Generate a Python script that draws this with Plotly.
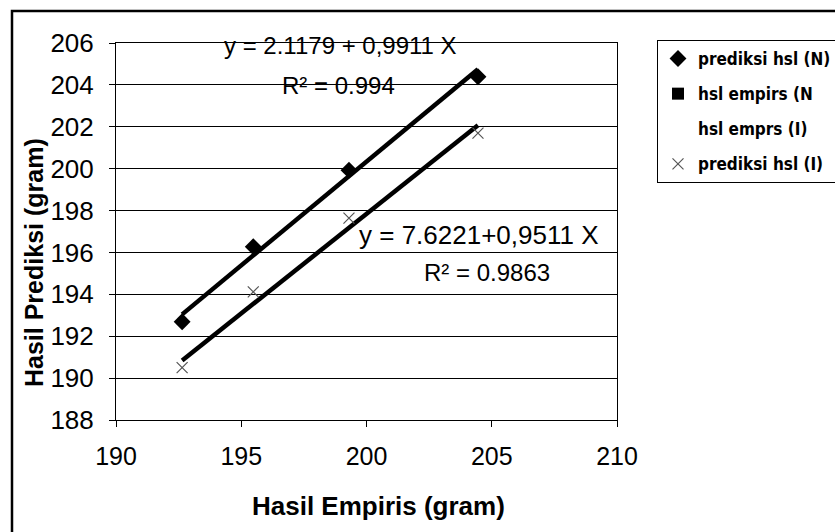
import plotly.graph_objects as go

# ---- data ----
emp_x = [192.64, 195.48, 199.30, 204.45]
pred_N = [192.69, 196.27, 199.93, 204.39]
pred_I = [190.50, 194.12, 197.64, 201.70]
trend_N = [2.1179, 0.9911]   # intercept, slope
trend_I = [7.6221, 0.9511]
x_ticks = [190, 195, 200, 205, 210]
y_ticks = [188, 190, 192, 194, 196, 198, 200, 202, 204, 206]

W, H = 835, 532
L, R, T, B = 116, 218, 43, 112
pw, ph = W - L - R, H - T - B

def px(xp):
    return (xp - L) / pw

def py(yp):
    return (H - B - yp) / ph

fx = [min(emp_x), max(emp_x)]
lineN = [trend_N[0] + trend_N[1] * v for v in fx]
lineI = [trend_I[0] + trend_I[1] * v for v in fx]

fig = go.Figure()
fig.add_trace(go.Scatter(x=fx, y=lineN, mode="lines", line=dict(color="black", width=4.5),
                         showlegend=False, hoverinfo="skip"))
fig.add_trace(go.Scatter(x=fx, y=lineI, mode="lines", line=dict(color="black", width=4.5),
                         showlegend=False, hoverinfo="skip"))
fig.add_trace(go.Scatter(x=emp_x, y=pred_N, mode="markers", name="prediksi hsl (N)",
                         marker=dict(symbol="diamond", size=13, color="black"), legendgroup="a"))
fig.add_trace(go.Scatter(x=[None], y=[None], mode="markers", name="hsl empirs (N",
                         marker=dict(symbol="square", size=12, color="black"), legendgroup="b"))
fig.add_trace(go.Scatter(x=[None], y=[None], mode="markers", name="hsl emprs (I)",
                         marker=dict(symbol="square", size=12, color="white"), legendgroup="c"))
fig.add_trace(go.Scatter(x=emp_x, y=pred_I, mode="markers", name="prediksi hsl (I)",
                         marker=dict(symbol="x-thin", size=11, color="#555",
                                     line=dict(width=1.2, color="#555")), legendgroup="d"))

fig.update_xaxes(range=[190, 210], tickvals=x_ticks, ticks="outside", ticklen=6, tickcolor="black",
                 showline=True, linecolor="black", linewidth=1, mirror=True, showgrid=False,
                 zeroline=False, ticklabelstandoff=8,
                 tickfont=dict(family="Liberation Sans, Arial, sans-serif", size=25, color="black"))
fig.update_yaxes(range=[188, 206], tickvals=y_ticks, ticks="outside", ticklen=6, tickcolor="black",
                 showline=True, linecolor="black", linewidth=1, mirror=True, showgrid=True,
                 gridcolor="black", gridwidth=1, zeroline=False, ticklabelstandoff=10,
                 tickfont=dict(family="Liberation Sans, Arial, sans-serif", size=26, color="black"))

anns = [
    dict(x=198.97, y=205.9, text="y = 2.1179 + 0,9911 X", size=24),
    dict(x=198.9, y=203.97, text="R² = 0.994", size=24),
    dict(x=204.5, y=196.83, text="y = 7.6221+0,9511 X", size=26),
    dict(x=204.8, y=195.06, text="R² = 0.9863", size=24),
]
for a in anns:
    fig.add_annotation(x=a["x"], y=a["y"], text=a["text"], showarrow=False,
                       xanchor="center", yanchor="middle",
                       font=dict(family="Liberation Sans, Arial, sans-serif", size=a["size"], color="black"))

fig.add_annotation(xref="paper", yref="paper", x=px(34), y=py(263), text="<b>Hasil Prediksi (gram)</b>",
                   textangle=-90, showarrow=False, xanchor="center", yanchor="middle",
                   font=dict(family="Liberation Sans, Arial, sans-serif", size=25, color="black"))
fig.add_annotation(xref="paper", yref="paper", x=px(378), y=py(506), text="<b>Hasil Empiris (gram)</b>",
                   showarrow=False, xanchor="center", yanchor="middle",
                   font=dict(family="Liberation Sans, Arial, sans-serif", size=26, color="black"))

# outer chart frame
fig.add_shape(type="rect", xref="paper", yref="paper", x0=px(12), x1=px(850), y0=py(560), y1=py(11),
              line=dict(color="black", width=2.5), fillcolor="rgba(0,0,0,0)", layer="above")

fig.update_layout(
    width=W, height=H, margin=dict(l=L, r=R, t=T, b=B, autoexpand=False),
    paper_bgcolor="white", plot_bgcolor="white",
    legend=dict(x=px(657), y=py(40), xanchor="left", yanchor="top",
                bordercolor="black", borderwidth=1, bgcolor="white",
                font=dict(family="Liberation Sans Narrow, DejaVu Sans Condensed, Liberation Sans",
                          size=17, color="black", weight="bold"),
                tracegroupgap=10, itemwidth=30),
)

fig.write_html("out.html")
